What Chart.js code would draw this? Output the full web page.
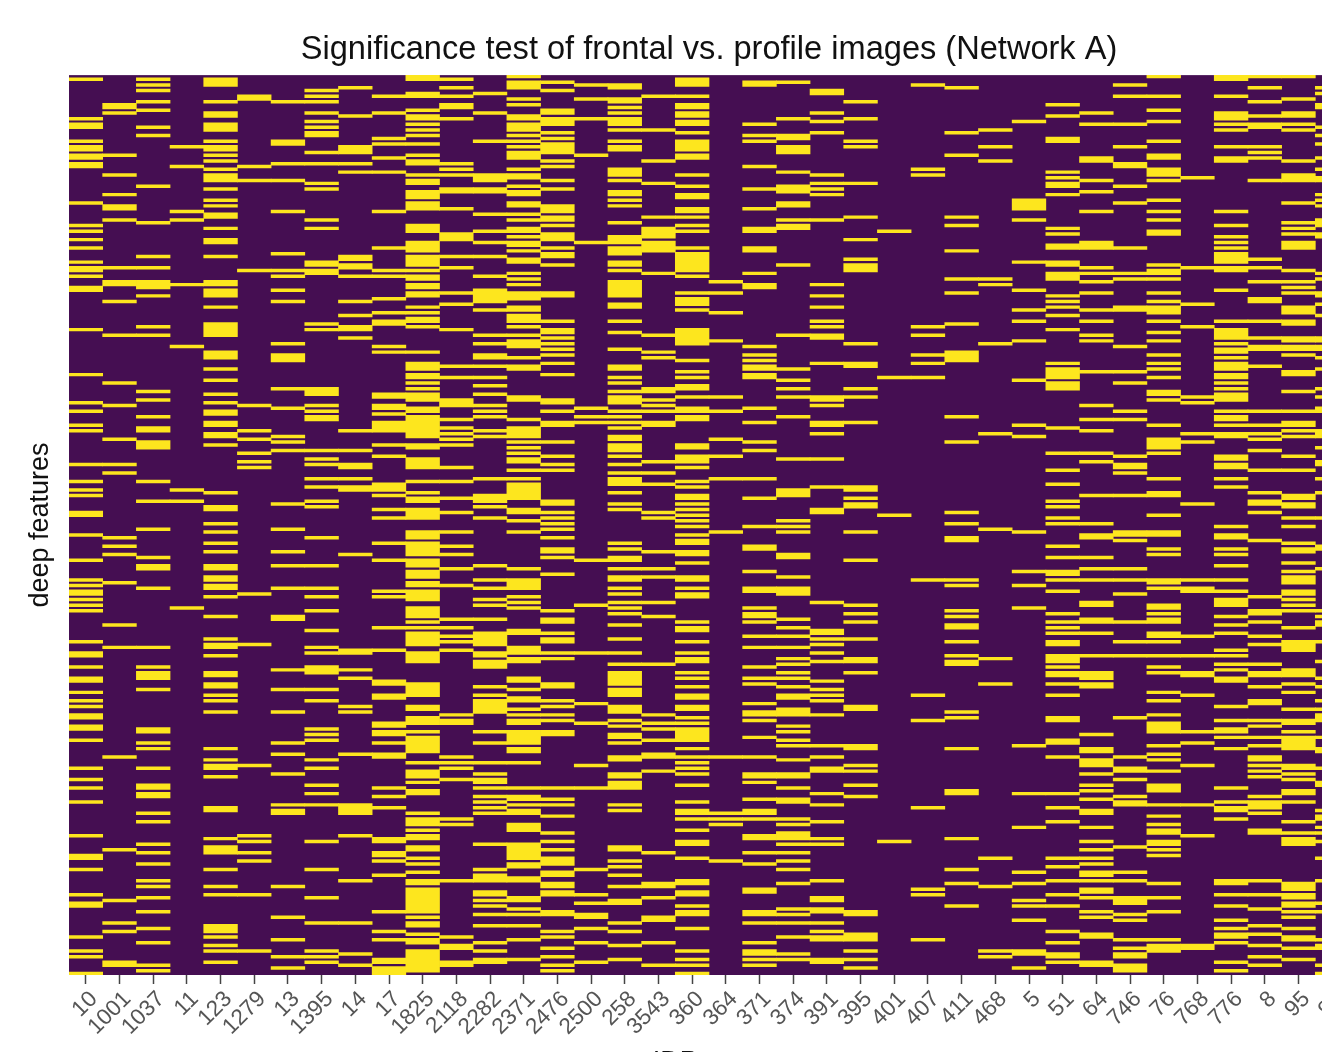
<!DOCTYPE html>
<html>
<head>
<meta charset="utf-8">
<title>Significance test</title>
<script src="https://cdn.jsdelivr.net/npm/chart.js@4"></script>
<style>
  html, body { margin: 0; padding: 0; background: #fff; width: 1322px; height: 1052px; overflow: hidden; }
  canvas { display: block; filter: blur(0.4px); }
</style>
</head>
<body>
<canvas id="heatmap" width="1418" height="1100" style="width:1418px;height:1100px"></canvas>
<script>
// person ids on the x axis
const idLabels = ["10","1001","1037","11","123","1279","13","1395","14","17","1825","2118","2282","2371","2476","2500","258","3543","360","364","371","374","391","395","401","407","411","468","5","51","64","746","76","768","776","8","95","99"];
const rowCount = 320;

// row numbers (0 = top) that are significant, one list per person
const col_10 = [1,15,17,18,23,25,26,28,29,31,32,45,53,55,58,61,66,68,69,71,75,76,90,106,116,119,124,126,138,144,147,149,155,156,163,172,179,181,183,184,186,188,190,201,205,206,210,214,215,219,222,224,227,228,231,232,236,246,250,253,258,270,277,278,282,291,294,295,306,311,313,319];
const col_1001 = [10,11,13,28,35,42,46,47,51,68,73,74,80,92,109,117,129,138,141,164,167,170,180,195,203,242,275,293,301,304,315,316];
const col_1037 = [1,3,5,9,12,18,21,39,52,64,68,73,74,75,78,89,92,112,115,121,125,126,130,131,132,144,151,161,171,174,175,182,203,210,212,213,214,218,232,233,237,239,246,252,253,255,256,262,265,273,276,280,286,288,292,297,303,308,316,318];
const col_11 = [25,32,48,51,74,96,147,151,189];
const col_123 = [1,2,3,9,13,14,17,18,19,23,25,26,28,30,33,35,36,37,40,44,46,49,50,54,58,59,64,73,74,76,77,78,82,88,89,90,91,92,98,99,100,104,108,113,116,119,120,123,124,127,128,131,148,153,154,159,162,166,169,174,175,178,179,181,182,185,192,200,202,203,206,212,213,216,217,220,222,226,239,243,245,246,249,260,261,271,274,275,276,282,288,291,302,303,304,306,309,311,315];
const col_1279 = [7,8,32,37,69,117,126,129,134,137,139,184,202,245,270,272,276,279,291,311];
const col_13 = [9,23,24,31,37,48,63,69,71,76,80,95,99,100,101,111,118,128,130,133,152,161,169,174,182,192,193,211,218,226,237,241,248,259,261,262,288,299,307,313,317];
const col_1395 = [5,7,9,13,16,18,20,21,27,31,38,40,51,54,66,67,69,70,88,90,111,112,113,117,119,121,122,133,136,138,143,146,151,153,164,174,182,185,190,197,203,205,210,211,212,218,222,232,234,236,243,246,252,255,259,272,282,292,301,311,313,315];
const col_14 = [4,14,25,26,27,31,34,64,65,67,68,71,80,85,89,90,93,126,133,138,139,143,146,147,170,204,205,211,214,224,226,241,259,260,261,262,270,286,301,312,316];
const col_17 = [7,13,22,24,29,34,48,61,69,71,79,84,87,88,96,98,113,114,117,118,120,123,124,125,126,131,135,145,146,147,149,154,157,166,172,183,185,196,204,215,216,220,221,230,231,233,234,237,241,242,253,256,260,271,272,276,277,279,284,297,304,307,314,315,317,318,319];
const col_1825 = [0,1,6,7,12,14,15,17,19,21,24,28,30,31,35,37,38,41,42,43,45,46,47,53,54,55,59,60,61,62,64,65,66,67,69,71,72,74,75,77,78,82,84,86,87,89,98,102,103,104,106,107,109,111,113,114,115,118,119,121,122,123,124,125,126,127,128,131,132,136,137,138,139,144,148,150,151,154,155,156,157,162,163,164,166,167,168,169,170,172,173,174,176,177,178,180,181,183,184,185,186,189,190,191,192,194,196,198,199,200,201,202,205,206,207,208,216,217,218,219,220,224,225,228,229,230,233,235,236,237,238,239,240,244,247,248,249,251,254,255,262,264,265,266,268,270,271,274,275,278,280,283,286,287,289,290,291,292,293,294,295,296,297,299,301,302,305,307,308,311,312,313,314,315,316,317,318];
const col_2118 = [1,4,7,10,11,15,31,33,35,40,41,47,56,57,58,64,68,77,81,90,103,107,115,116,117,122,125,127,129,131,139,144,150,155,162,167,170,175,181,193,196,199,201,204,227,229,230,242,244,246,250,264,266,286,306,309,310,315,316];
const col_2282 = [6,13,23,35,36,37,40,41,49,55,59,64,71,76,77,78,79,80,83,92,95,99,100,103,107,110,113,117,119,121,126,128,143,149,150,151,153,157,174,179,182,186,188,193,198,199,200,201,202,205,206,208,209,210,217,220,222,223,224,225,226,233,237,244,248,250,251,253,256,258,260,262,273,282,284,285,286,290,291,293,295,298,302,308,311,314,315];
const col_2371 = [0,2,3,4,8,10,14,15,17,18,19,21,23,25,27,28,29,33,35,36,39,41,42,45,46,49,51,54,55,57,59,60,62,65,66,70,72,74,77,78,79,82,83,85,86,87,89,92,94,95,96,100,103,104,114,115,122,125,126,127,128,130,132,134,136,137,140,143,145,146,147,148,149,150,154,155,158,162,175,179,180,181,182,185,187,189,197,198,203,204,205,207,208,214,215,218,221,222,225,227,229,230,233,234,235,236,237,239,240,244,253,256,257,259,261,262,266,267,268,273,274,275,276,277,278,280,281,285,286,292,293,296,298,302,307,314];
const col_2476 = [2,5,12,13,15,16,17,20,22,24,25,26,27,30,32,37,40,46,47,48,50,51,53,56,57,58,61,63,64,67,77,78,87,90,91,93,95,97,99,102,106,115,116,119,123,124,130,135,138,140,151,152,155,157,159,161,164,168,169,171,177,190,193,194,198,200,201,205,207,216,217,222,224,227,229,233,234,253,257,259,263,269,272,275,278,279,280,283,284,287,288,290,291,297,298,304,306,310,313,316,318];
const col_2500 = [3,8,15,28,59,118,121,123,172,188,205,223,230,245,253,282,291,294,298,299,303,308,315];
const col_258 = [3,4,8,9,11,13,15,16,17,19,23,25,26,33,34,35,37,41,42,44,46,52,57,58,59,61,62,63,66,67,69,73,74,75,76,77,78,81,82,87,91,97,103,104,107,109,112,114,115,116,119,121,123,125,128,129,131,132,133,135,138,141,143,144,145,148,152,154,166,168,171,172,175,178,179,182,184,187,189,191,195,200,205,209,212,213,214,215,216,218,219,220,224,225,226,229,231,234,235,237,242,243,248,249,251,252,253,259,261,274,275,279,281,284,288,293,294,301,304,309,314];
const col_3543 = [7,19,30,38,50,54,55,56,57,59,60,61,62,70,92,98,100,111,112,115,117,119,123,124,137,141,145,155,157,169,175,178,187,192,209,227,230,232,236,241,242,247,276,287,288,292,299,300,308,316];
const col_360 = [1,2,3,7,10,11,13,14,16,17,20,23,24,25,26,28,29,35,39,42,43,47,48,50,53,55,61,63,64,65,66,67,68,69,71,77,79,80,81,83,90,91,92,93,94,95,101,105,107,110,111,114,118,119,121,122,131,132,135,136,137,139,144,146,149,150,152,154,156,158,160,163,165,166,169,170,173,178,179,182,184,185,194,196,197,201,205,207,208,212,214,217,220,221,224,225,228,230,232,233,234,235,236,239,242,244,246,248,252,258,261,262,264,268,272,273,278,286,287,290,291,295,297,298,303,311,314,316,319];
const col_364 = [73,77,84,94,114,119,129,135,143,162,242,262,264,266,279];
const col_371 = [2,3,17,21,23,32,40,47,54,55,61,62,70,74,75,96,99,101,103,104,106,107,118,123,130,133,143,150,160,167,168,176,182,183,189,191,192,194,199,203,210,214,216,223,226,227,229,235,242,248,249,251,257,261,262,264,270,271,276,280,289,290,297,298,301,308,311,312,314,316];
const col_374 = [2,15,21,22,25,26,27,34,39,40,41,45,46,51,53,54,67,92,104,108,111,114,121,136,147,148,149,158,160,162,170,171,178,182,183,184,193,196,199,203,207,209,212,214,217,220,221,225,226,227,231,233,236,238,243,248,249,253,257,258,264,266,269,270,271,273,276,279,282,287,296,298,301,306,312,314];
const col_391 = [5,6,13,16,20,35,38,40,42,51,74,78,82,87,89,92,93,102,114,115,117,123,124,127,136,146,154,155,187,197,198,200,202,205,208,215,218,220,222,227,238,242,246,247,255,259,265,271,273,286,292,293,296,297,301,304,306,307,314,315];
const col_395 = [9,15,23,25,38,50,58,65,67,68,69,95,102,103,111,114,123,146,147,150,152,153,162,172,188,191,194,200,207,208,212,224,225,238,239,245,247,252,256,297,298,305,306,307,311,314,317];
const col_401 = [55,107,156,272];
const col_407 = [3,33,35,89,92,99,102,107,179,220,229,260,289,291,307];
const col_411 = [4,20,28,50,53,62,72,77,88,98,99,100,101,121,130,155,159,164,165,179,181,190,192,195,196,201,206,208,209,226,228,239,254,255,271,282,287,295];
const col_468 = [19,25,30,72,74,95,127,161,207,216,278,288,311,313];
const col_5 = [16,44,45,46,47,51,66,76,83,87,94,108,124,128,162,176,181,189,238,255,267,283,287,293,295,300,311,312,317];
const col_51 = [10,14,22,23,34,36,38,39,42,54,56,60,61,66,67,70,71,72,78,80,82,85,90,102,104,105,106,107,109,110,111,125,134,140,145,151,153,157,159,167,171,176,177,179,183,191,194,196,198,201,202,206,207,208,210,212,213,216,220,228,229,236,237,242,255,260,265,278,281,286,291,295,304,308,312,313,315];
const col_64 = [13,17,29,30,37,41,48,59,60,61,68,70,73,77,83,87,92,94,105,117,122,126,134,137,149,159,163,164,171,175,179,187,188,193,194,198,206,212,213,214,216,217,234,239,240,243,244,245,248,252,254,257,261,262,267,272,275,278,280,283,284,286,289,290,292,297,299,305,306,315,316];
const col_746 = [3,7,17,25,31,32,39,45,61,70,72,82,83,96,105,109,119,122,135,138,139,141,149,162,163,165,175,179,184,194,201,206,228,242,246,247,250,256,258,259,274,283,286,292,293,294,298,300,307,310,312,313,316,317,318];
const col_76 = [0,7,12,16,23,28,29,33,34,35,37,44,48,51,55,56,67,69,70,72,77,80,82,83,84,87,91,94,99,102,104,107,112,113,115,124,129,130,131,132,134,143,148,149,156,162,163,168,170,179,180,182,188,189,191,193,194,198,199,201,206,210,212,219,222,227,230,231,232,233,238,241,243,247,252,253,254,259,263,266,268,269,272,273,275,277,287,292,297,307,309,310,311];
const col_768 = [36,68,81,89,114,116,127,130,152,179,182,183,199,206,212,213,220,233,237,245,259,270,309,310];
const col_776 = [0,1,7,13,14,15,17,19,25,29,30,48,53,57,59,61,63,64,65,66,68,69,76,87,90,91,92,93,95,97,98,100,102,103,104,106,107,109,111,113,114,115,119,121,122,124,127,128,135,136,138,139,143,146,160,163,164,168,170,174,179,183,186,187,188,192,195,198,204,206,209,211,214,215,224,229,232,233,235,239,253,258,260,261,264,286,287,291,295,300,303,305,306,308,315,318];
const col_8 = [0,4,9,14,17,18,25,27,29,37,65,68,73,79,80,87,93,96,97,103,119,124,127,129,133,140,148,151,152,155,165,185,190,191,194,199,202,209,212,213,217,222,223,229,231,235,238,242,243,245,247,249,256,258,259,260,262,268,269,286,291,296,302,305,309,313,316];
const col_95 = [0,8,13,14,17,19,30,35,36,37,45,52,54,56,59,60,61,69,73,75,77,82,83,84,87,88,93,94,96,97,99,105,106,112,119,123,124,126,128,135,140,149,150,152,153,157,160,166,168,169,173,176,178,179,180,183,184,186,188,190,196,201,202,203,204,211,212,213,216,219,225,229,230,233,235,236,237,238,239,245,246,248,250,254,255,258,265,269,271,272,273,287,288,289,291,292,294,295,297,299,303,306,307,310,314];
const col_99 = [4,6,10,11,18,21,24,29,33,36,37,42,44,46,51,52,53,56,57,70,72,77,78,81,85,93,94,96,97,100,104,111,114,118,119,126,127,128,132,137,138,143,148,157,167,168,175,190,192,194,195,201,208,214,217,222,225,227,228,229,235,239,240,246,251,252,261,263,264,267,269,272,278,286,294,297,307,309,310,316,319];

const personColumns = [col_10,col_1001,col_1037,col_11,col_123,col_1279,col_13,col_1395,col_14,col_17,col_1825,col_2118,col_2282,col_2371,col_2476,col_2500,col_258,col_3543,col_360,col_364,col_371,col_374,col_391,col_395,col_401,col_407,col_411,col_468,col_5,col_51,col_64,col_746,col_76,col_768,col_776,col_8,col_95,col_99];

// touching rows go into one bar, otherwise hairlines show between them
function buildBars() {
  var bars = [];
  for (var i = 0; i < personColumns.length; i++) {
    var rows = personColumns[i];
    var start = null, prev = null;
    for (var k = 0; k < rows.length; k++) {
      if (start === null) {
        start = rows[k];
      } else if (rows[k] > prev + 1) {
        bars.push({x: idLabels[i], y: [start, prev + 1]});
        start = rows[k];
      }
      prev = rows[k];
    }
    if (start !== null) bars.push({x: idLabels[i], y: [start, prev + 1]});
  }
  return bars;
}

const plotBackground = {
  id: 'plotBackground',
  beforeDatasetsDraw(chart) {
    const a = chart.chartArea;
    chart.ctx.save();
    chart.ctx.fillStyle = '#450e52';
    chart.ctx.fillRect(a.left, a.top, a.width, a.height);
    chart.ctx.restore();
  }
};

new Chart(document.getElementById('heatmap'), {
  type: 'bar',
  data: {
    labels: idLabels,
    datasets: [{
      label: 'significant',
      data: buildBars(),
      backgroundColor: '#fde61e',
      borderWidth: 0,
      grouped: false,
      barPercentage: 1,
      categoryPercentage: 1
    }]
  },
  plugins: [plotBackground],
  options: {
    responsive: false,
    animation: false,
    layout: {padding: {left: 0, right: 69, top: 0, bottom: 0}},
    plugins: {
      legend: {display: false},
      tooltip: {enabled: false},
      title: {
        display: true,
        fullSize: false,
        text: 'Significance test of frontal vs. profile images (Network A)',
        color: '#111',
        font: {family: '"Liberation Sans", Arial, sans-serif', size: 32.6, weight: 'normal', lineHeight: 1.2},
        padding: {top: 30, bottom: 6}
      }
    },
    scales: {
      x: {
        type: 'category',
        offset: true,
        afterFit(scale) { scale.height = 125; },
        border: {display: false},
        grid: {offset: false, drawOnChartArea: false, drawTicks: true, tickLength: 9, tickColor: '#444', tickWidth: 1.5, color: '#444'},
        ticks: {
          autoSkip: false,
          minRotation: 45,
          maxRotation: 45,
          padding: 2,
          labelOffset: 8,
          color: '#555',
          font: {family: '"Liberation Sans", Arial, sans-serif', size: 22.5}
        },
        title: {
          display: true,
          text: 'IDPerson',
          color: '#111',
          font: {family: '"Liberation Sans", Arial, sans-serif', size: 27},
          padding: {top: 0, bottom: 21}
        }
      },
      y: {
        type: 'linear',
        min: 0,
        max: rowCount,
        reverse: true,
        afterFit(scale) { scale.width = 69; },
        border: {display: false},
        grid: {display: false},
        ticks: {display: false},
        title: {
          display: true,
          text: 'deep features',
          color: '#111',
          font: {family: '"Liberation Sans", Arial, sans-serif', size: 27},
          padding: {top: 24, bottom: 0}
        }
      }
    }
  }
});
</script>
</body>
</html>
